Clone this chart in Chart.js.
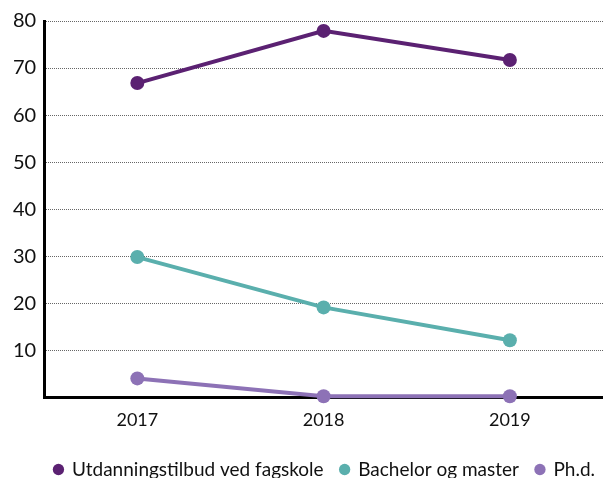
<!DOCTYPE html>
<html>
<head>
<meta charset="utf-8">
<script src="https://cdn.jsdelivr.net/npm/chart.js@4/dist/chart.umd.min.js"></script>
<style>
  html, body { margin: 0; padding: 0; background: #fff; }
  #wrap { width: 603px; height: 478px; }
</style>
</head>
<body>
<div id="wrap"><canvas id="lineChart"></canvas></div>
<script>
var years = ["2017", "2018", "2019"];
var fagskole = [66.8, 77.9, 71.7];
var bachelorMaster = [29.8, 19.1, 12.1];
var phd = [4.0, 0.2, 0.2];
var seriesNames = ["Utdanningstilbud ved fagskole", "Bachelor og master", "Ph.d."];
var seriesColors = ["#5b2172", "#5aafad", "#8d72b6"];

var ctx = document.getElementById("lineChart").getContext('2d');

function makeSet(i, values) {
    return {
        label: seriesNames[i],
        data: values,
        borderColor: seriesColors[i],
        backgroundColor: seriesColors[i],
        borderWidth: 4,
        pointRadius: 7,
        pointHoverRadius: 7,
        pointBorderWidth: 0,
        tension: 0,
        clip: false
    };
}

var chart = new Chart(ctx, {
    type: 'line',
    data: {
        labels: years,
        datasets: [
            makeSet(0, fagskole),
            makeSet(1, bachelorMaster),
            makeSet(2, phd)
        ]
    },
    options: {
        responsive: true,
        maintainAspectRatio: false,
        animation: false,
        layout: { autoPadding: false, padding: { top: 21, left: 5, right: -9, bottom: -11 } },
        plugins: {
            tooltip: { enabled: false },
            legend: {
                display: true,
                position: 'bottom',
                align: 'end',
                labels: {
                    usePointStyle: true,
                    pointStyle: 'circle',
                    boxWidth: 8,
                    boxHeight: 8,
                    padding: 17,
                    color: '#111',
                    font: { family: 'Lato', size: 19 }
                }
            }
        },
        scales: {
            x: {
                offset: true,
                grid: { display: false, drawTicks: false },
                border: { display: true, color: '#000', width: 3 },
                ticks: {
                    color: '#111',
                    padding: 4,
                    font: { family: 'Lato', size: 18, lineHeight: 2.1 }
                }
            },
            y: {
                min: 0,
                max: 80,
                ticks: {
                    stepSize: 10,
                    color: '#111',
                    padding: 8,
                    font: { family: 'Lato', size: 20 },
                    callback: function (v) { return v === 0 ? '' : v; }
                },
                grid: {
                    color: '#666',
                    lineWidth: 1,
                    drawTicks: false
                },
                border: { display: true, color: '#000', width: 3, dash: [1, 1] }
            }
        }
    }
});
</script>
</body>
</html>
